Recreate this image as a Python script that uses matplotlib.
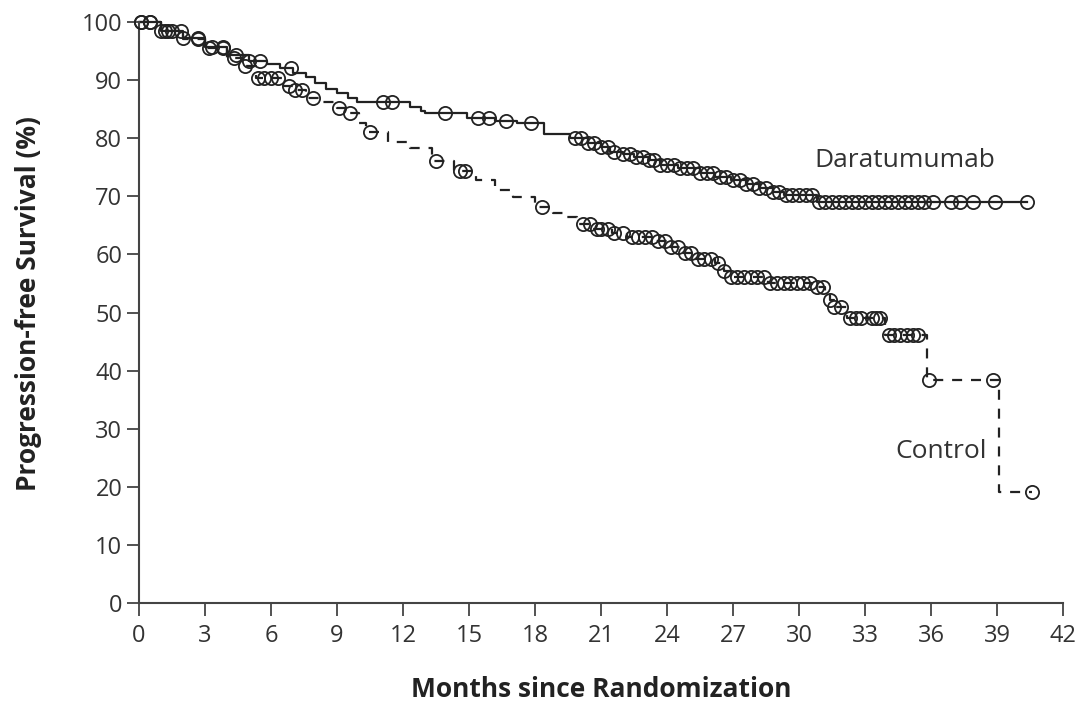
import numpy as np
import matplotlib
matplotlib.use("Agg")
import matplotlib.pyplot as plt

plt.rcParams['font.family'] = ['Open Sans', 'DejaVu Sans']

# Kaplan-Meier steps: time (months) at which each drop happens, survival (%) after it
dara_t = [0, 1.0, 2.0, 3.0, 4.0, 5.0, 5.8, 6.4, 7.0, 7.6, 8.0, 8.5, 9.0, 9.5, 9.9,
          12.3, 12.8, 13.0, 14.9, 16.2, 17.2, 18.4, 19.6, 20.4, 21.0, 21.4, 22.0,
          22.5, 23.2, 23.7, 24.5, 25.5, 26.2, 26.9, 27.6, 28.2, 28.8, 29.3, 30.8]
dara_s = [100, 98.5, 97.2, 95.7, 94.3, 93.3, 92.7, 92.0, 91.3, 90.5, 89.5, 88.5,
          87.8, 87.0, 86.2, 85.4, 84.7, 84.4, 83.4, 82.9, 82.6, 80.8, 80.0, 79.2,
          78.5, 77.6, 77.2, 76.8, 76.2, 75.4, 74.8, 74.0, 73.4, 72.8, 72.2, 71.4,
          70.8, 70.2, 69.0]
dara_cens = [0.1, 0.5, 1.2, 1.5, 2.0, 2.7, 3.3, 3.8, 4.4, 5.0, 5.5, 6.9, 11.1, 11.5,
             13.9, 15.4, 15.9, 16.7, 17.8, 19.8, 20.1, 20.4, 20.7, 21.0, 21.3, 21.6,
             22.0, 22.3, 22.6, 22.9, 23.2, 23.4, 23.7, 24.0, 24.3, 24.6, 24.9, 25.2,
             25.5, 25.8, 26.1, 26.4, 26.7, 27.0, 27.3, 27.6, 27.9, 28.2, 28.5, 28.8,
             29.1, 29.4, 29.7, 30.0, 30.3, 30.6, 30.9, 31.2, 31.5, 31.8, 32.1, 32.4,
             32.7, 33.0, 33.3, 33.6, 33.9, 34.2, 34.5, 34.8, 35.1, 35.4, 35.7, 36.1,
             36.9, 37.3, 37.9, 38.9, 40.35]

ctrl_t = [0, 1.0, 2.0, 3.0, 4.0, 4.7, 5.3, 6.5, 7.0, 7.6, 8.2, 9.0, 9.5, 10.0, 10.3,
          11.3, 12.3, 13.3, 14.3, 15.3, 16.2, 17.0, 18.0, 18.8, 19.3, 19.9, 20.6,
          21.5, 22.2, 23.5, 24.0, 24.6, 25.2, 26.2, 26.6, 26.9, 28.6, 30.6, 31.2,
          31.4, 31.6, 32.2, 33.9, 35.8, 39.1]
ctrl_s = [100, 98.5, 97.0, 95.5, 93.8, 92.5, 90.3, 89.0, 88.3, 87.0, 86.2, 85.2,
          84.3, 82.6, 81.1, 79.3, 78.3, 76.0, 74.3, 72.8, 71.1, 69.9, 68.2, 67.2,
          66.4, 65.2, 64.3, 63.6, 63.0, 62.3, 61.3, 60.2, 59.2, 58.5, 57.2, 56.1,
          55.1, 54.4, 53.5, 52.2, 51.0, 49.1, 46.1, 38.4, 19.1]
ctrl_cens = [0.1, 0.5, 1.0, 1.3, 1.9, 2.7, 3.2, 3.8, 4.3, 4.8, 5.4, 5.7, 6.0, 6.3,
             6.8, 7.1, 7.4, 7.9, 9.1, 9.6, 10.5, 13.5, 14.6, 14.8, 18.3, 20.2, 20.5,
             20.8, 21.0, 21.3, 21.6, 22.0, 22.4, 22.7, 23.0, 23.3, 23.6, 23.9, 24.2,
             24.5, 24.8, 25.1, 25.4, 25.7, 26.0, 26.3, 26.6, 26.9, 27.2, 27.5, 27.8,
             28.1, 28.4, 28.7, 29.0, 29.3, 29.6, 29.9, 30.2, 30.5, 30.8, 31.1, 31.4,
             31.6, 31.9, 32.3, 32.6, 32.8, 33.3, 33.5, 33.7, 34.1, 34.3, 34.6, 34.9,
             35.2, 35.4, 35.9, 38.8, 40.6]


def km_at(times, surv, t):
    # survival value of the step curve at time t
    idx = np.searchsorted(times, t, side='right') - 1
    return np.asarray(surv)[idx]


fig = plt.figure(figsize=(10.79, 7.01), dpi=100)
ax = fig.add_axes([0.1288, 0.1398, 0.8564, 0.8288])

ink = '#222222'

def draw_arm(times, surv, cens, ls):
    end = max(cens)
    xs = list(times) + [end]
    ys = list(surv) + [surv[-1]]
    ax.step(xs, ys, where='post', color=ink, lw=1.6, linestyle=ls,
            clip_on=False, zorder=2)
    ax.plot(cens, km_at(times, surv, cens), linestyle='none', marker='o',
            markersize=9.5, markerfacecolor='none', markeredgecolor=ink,
            markeredgewidth=1.3, clip_on=False, zorder=3)

draw_arm(dara_t, dara_s, dara_cens, '-')
draw_arm(ctrl_t, ctrl_s, ctrl_cens, (0, (4.5, 4)))

ax.text(34.8, 76.2, 'Daratumumab', fontsize=19, color='#333333',
        ha='center', va='center')
ax.text(34.36, 26.0, 'Control', fontsize=19, color='#333333',
        ha='left', va='center')

ax.set_xlim(0, 42)
ax.set_ylim(0, 100)
ax.set_xticks(range(0, 43, 3))
ax.set_yticks(range(0, 101, 10))
ax.tick_params(labelsize=17, length=9, width=1.3, color='#444444',
               labelcolor='#333333')
ax.tick_params(axis='x', pad=6)
ax.tick_params(axis='y', pad=3)

for side in ['top', 'right']:
    ax.spines[side].set_visible(False)
for side in ['left', 'bottom']:
    ax.spines[side].set_color('#444444')
    ax.spines[side].set_linewidth(1.5)

ax.set_xlabel('Months since Randomization', fontsize=19, fontweight='bold',
              color='#222222')
ax.set_ylabel('Progression-free Survival (%)', fontsize=19, fontweight='bold',
              color='#222222')
ax.xaxis.set_label_coords(0.5, -0.125)
ax.yaxis.set_label_coords(-0.105, 0.515)

fig.savefig('out.png', dpi=100)
